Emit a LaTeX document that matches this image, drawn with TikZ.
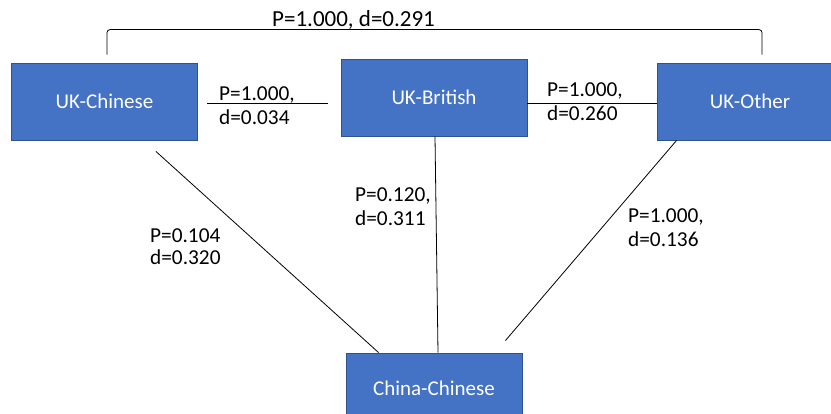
\documentclass[tikz,border=0pt]{standalone}
\usepackage{fontspec}
\setmainfont{Carlito}
\usetikzlibrary{calc}
\definecolor{boxblue}{HTML}{4472C4}
\definecolor{boxedge}{HTML}{2F528F}
\begin{document}
\begin{tikzpicture}[x=1pt,y=-1pt,
  group/.style={rectangle, fill=boxblue, draw=boxedge, line width=0.8pt,
    text=white, minimum width=186pt, minimum height=77pt, inner sep=0pt,
    font=\fontsize{21}{25}\selectfont},
  link/.style={draw=black, line width=0.8pt},
  stat/.style={anchor=base west, align=left, inner sep=0pt,
    font=\fontsize{21.3}{24.5}\selectfont}]
\clip (0,0) rectangle (831,414);

% groups
\node[group] (ukc) at (104.5,101.5) {UK-Chinese};
\node[group] (ukb) at (434,97.5) {UK-British};
\node[group] (uko) at (750,101.5) {UK-Other};
\node[group, minimum width=176pt, minimum height=70pt] (chc) at (434,388) {China-Chinese};

% horizontal links
\coordinate (r1) at (0,103);
\draw[link] ($(ukc.east |- r1)+(9,0)$) -- ($(ukb.west |- r1)+(-13,0)$);
\draw[link] (ukb.east |- r1) -- (uko.west |- r1);

% bracket between the outer UK groups
\draw[link, rounded corners=3pt] ($(ukc.north)+(2.5,-8)$) -- ++(0,-25) -| ($(uko.north)+(12,-8)$);

% links to China-Chinese
\draw[link] ($(ukc.south east)+(-42,11)$) -- ($(chc.north west)+(33,0)$);
\draw[link] ($(ukb.south)+(1,0)$) -- ($(chc.north)+(4,0)$);
\draw[link] ($(uko.south west)+(20,0)$) -- ($(chc.north east)+(-17,-12)$);

% statistics (anchored at the baseline of the last line)
\node[stat, font=\fontsize{23}{27}\selectfont] (s0) at (272,27) {P=1.000, d=0.291};
\node[stat] (s1) at (219,125) {P=1.000,\\d=0.034};
\node[stat] (s2) at (547,121) {P=1.000,\\d=0.260};
\node[stat, font=\fontsize{21.3}{22.5}\selectfont] (s3) at (150,265) {P=0.104\\d=0.320};
\node[stat] (s4) at (355,226) {P=0.120,\\d=0.311};
\node[stat] (s5) at (628,247) {P=1.000,\\d=0.136};
\end{tikzpicture}
\end{document}
